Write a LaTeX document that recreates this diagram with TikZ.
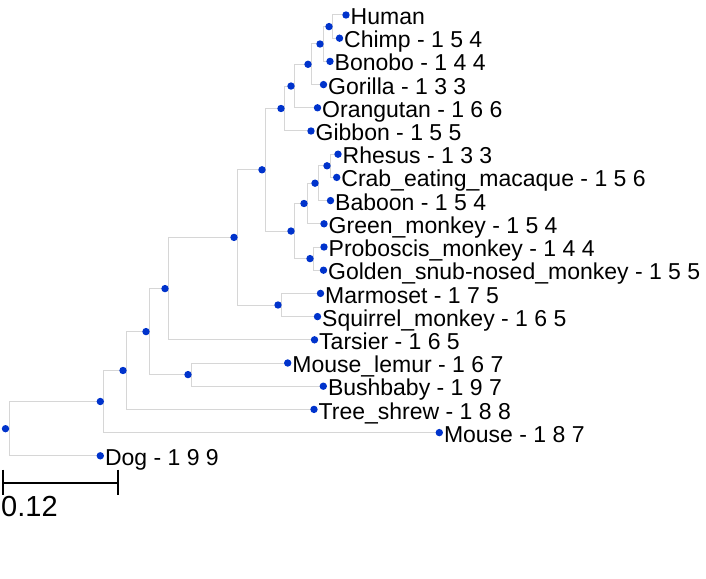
\documentclass[tikz,border=0pt]{standalone}
\usepackage{fontspec}
\setmainfont{Liberation Sans}
\usetikzlibrary{backgrounds}
\definecolor{dotblue}{RGB}{0,51,204}
\definecolor{edgegray}{RGB}{214,214,214}
\begin{document}
\begin{tikzpicture}[x=1bp,y=-1bp,
  edge/.style={draw=edgegray,line width=1bp},
  dotmark/.style={circle,fill=dotblue,draw=none,inner sep=0pt,minimum size=7.4bp},
  leaflabel/.style={anchor=base west,inner sep=0pt,font=\fontsize{23bp}{27bp}\selectfont},
  barline/.style={draw=black,line width=2bp}]
\useasboundingbox (0,0) rectangle (706,579);
% leaves
\foreach \n/\x/\y/\t in {
  human/346/15/Human,
  chimp/339.5/38.2/Chimp - 1 5 4,
  bonobo/330/61.4/Bonobo - 1 4 4,
  gorilla/323.5/84.6/Gorilla - 1 3 3,
  orangutan/317.5/107.8/Orangutan - 1 6 6,
  gibbon/311/131/Gibbon - 1 5 5,
  rhesus/338/154.2/Rhesus - 1 3 3,
  crab/336.7/177.4/Crab\_eating\_macaque - 1 5 6,
  baboon/330.5/200.6/Baboon - 1 5 4,
  green/324/223.8/Green\_monkey - 1 5 4,
  proboscis/324/247/Proboscis\_monkey - 1 4 4,
  golden/323.5/270.2/Golden\_snub-nosed\_monkey - 1 5 5,
  marmoset/320.5/293.4/Marmoset - 1 7 5,
  squirrel/317.5/316.6/Squirrel\_monkey - 1 6 5,
  tarsier/314.5/339.8/Tarsier - 1 6 5,
  mlemur/287.7/363/Mouse\_lemur - 1 6 7,
  bushbaby/323.3/386.2/Bushbaby - 1 9 7,
  treeshrew/314/409.4/Tree\_shrew - 1 8 8,
  mouse/439.3/432.6/Mouse - 1 8 7,
  dog/100.3/455.8/Dog - 1 9 9}{
  \node[dotmark] (\n) at (\x,\y) {};
  \node[leaflabel] (\n-lbl) at ([xshift=4.5bp,yshift=-9.6bp]\n.center) {\t};
}
% internal nodes
\foreach \n/\x/\y in {
  hc/329/26.6, hcb/320/44, hcbg/308/64.3, hcbgo/291/86.05, hom/281/108.5,
  rc/327/165.8, rcb/315/183.2, rcbg/304/203.5, pg/310/258.6, owm/291/231.05,
  cat/262/169.8, ms/278/305, sim/234/237.4, hap/165/288.6, lem/188/374.6,
  pri/146/331.6, eua/123/370.5, eug/100.3/401.5, root/5.5/428.7}{
  \node[dotmark] (\n) at (\x,\y) {};
}
\begin{scope}[on background layer]
\foreach \p/\c in {
  hc/human, hc/chimp, hcb/hc, hcb/bonobo, hcbg/hcb, hcbg/gorilla,
  hcbgo/hcbg, hcbgo/orangutan, hom/hcbgo, hom/gibbon,
  rc/rhesus, rc/crab, rcb/rc, rcb/baboon, rcbg/rcb, rcbg/green,
  pg/proboscis, pg/golden, owm/rcbg, owm/pg, cat/hom, cat/owm,
  ms/marmoset, ms/squirrel, sim/cat, sim/ms, hap/sim, hap/tarsier,
  lem/mlemur, lem/bushbaby, pri/hap, pri/lem, eua/pri, eua/treeshrew,
  eug/eua, eug/mouse, root/eug, root/dog}{
  \draw[edge] ([xshift=3.6bp]\p.center) |- (\c.center);
}
\end{scope}
% scale bar
\coordinate (sbL) at (3,482.5);
\coordinate (sbR) at (118,482.5);
\draw[barline] (sbL) -- (sbR);
\draw[barline] ([yshift=13bp]sbL) -- ([yshift=-12bp]sbL);
\draw[barline] ([yshift=13bp]sbR) -- ([yshift=-12bp]sbR);
\node[anchor=base west,inner sep=0pt,font=\fontsize{29bp}{33bp}\selectfont] (sblbl) at (1,516.7) {0.12};
\end{tikzpicture}
\end{document}
